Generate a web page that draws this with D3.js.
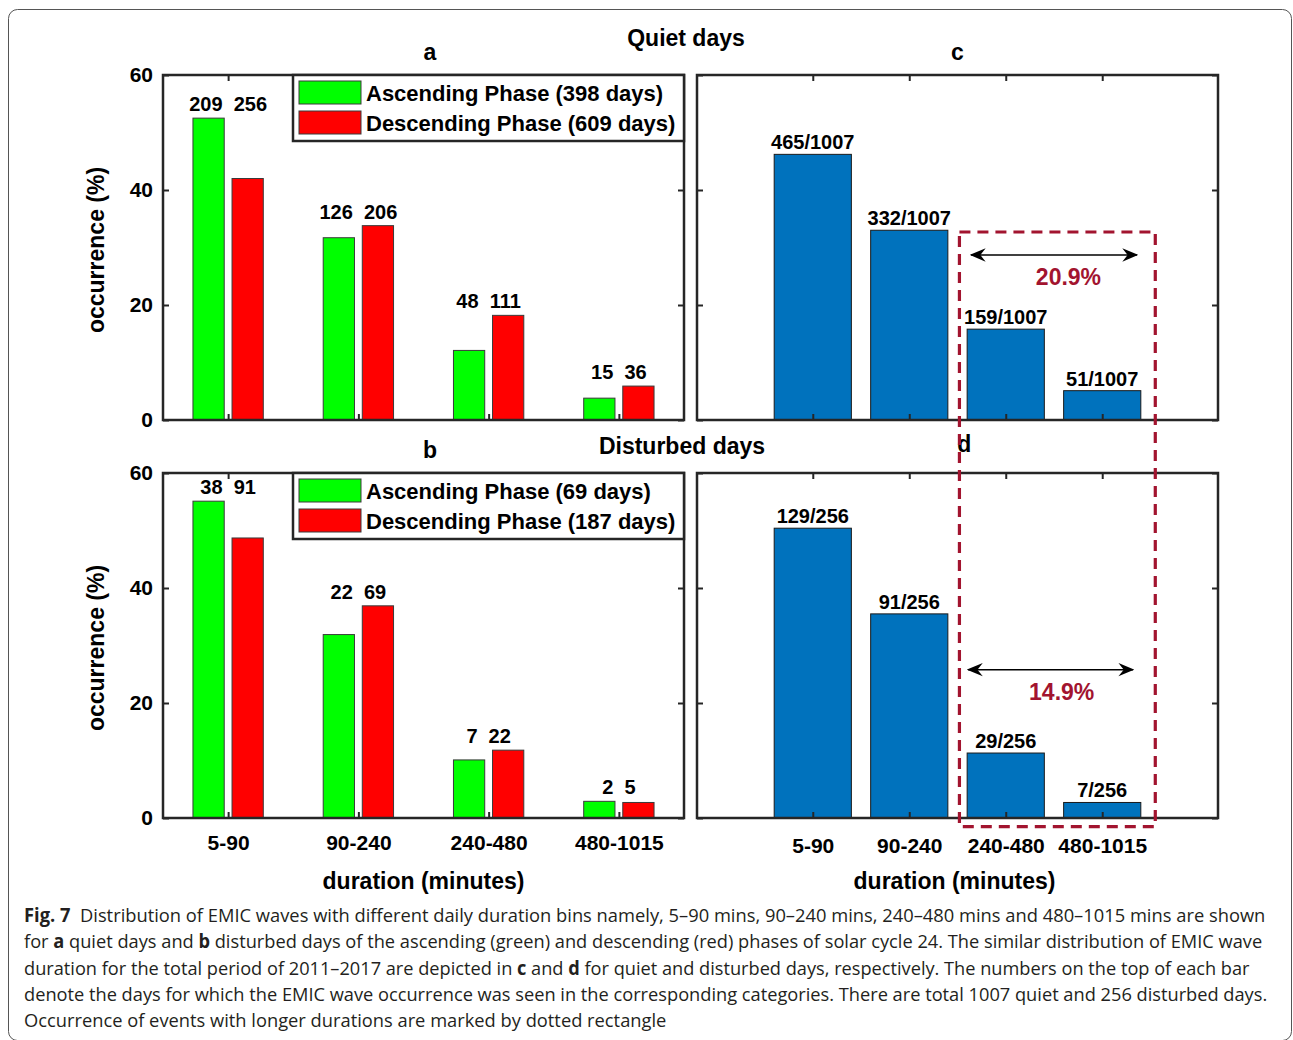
<!DOCTYPE html>
<html>
<head>
<meta charset="utf-8">
<script src="https://cdn.jsdelivr.net/npm/d3@7"></script>
<style>
  body { margin: 0; background: #fff; }
  svg text { font-family: "Liberation Sans", Arial, Helvetica, sans-serif; }
</style>
</head>
<body>
<svg id="fig" width="1293" height="1040"></svg>
<script>
// duration bins
var bins = ["5-90", "90-240", "240-480", "480-1015"];
var yTicks = [0, 20, 40, 60];

// quiet days, ascending / descending phase (%)
var quietAsc = [52.5, 31.7, 12.1, 3.8];
var quietDesc = [42.0, 33.8, 18.2, 5.9];
var quietAscDays = [209, 126, 48, 15];
var quietDescDays = [256, 206, 111, 36];

// disturbed days, ascending / descending phase (%)
var distAsc = [55.1, 31.9, 10.1, 2.9];
var distDesc = [48.7, 36.9, 11.8, 2.7];
var distAscDays = [38, 22, 7, 2];
var distDescDays = [91, 69, 22, 5];

// whole period 2011-2017 (%)
var quietTotal = [46.2, 33.0, 15.8, 5.1];
var quietTotalLabels = ["465/1007", "332/1007", "159/1007", "51/1007"];
var distTotal = [50.4, 35.5, 11.3, 2.7];
var distTotalLabels = ["129/256", "91/256", "29/256", "7/256"];

// share of long events
var longShare = ["20.9%", "14.9%"];

var svg = d3.select("#fig");
var ink = "#262626";
var crimson = "#A2142F";

//outer frame of the figure
svg.append("rect")
  .attr("x", 8.5).attr("y", 9.5)
  .attr("width", 1283).attr("height", 1031)
  .attr("rx", 9)
  .style("fill", "none")
  .style("stroke", "#555")
  .style("stroke-width", 1);

//arrow head
svg.append("defs").append("marker")
  .attr("id", "head")
  .attr("viewBox", "0 0 12 10")
  .attr("refX", 11).attr("refY", 5)
  .attr("markerUnits", "userSpaceOnUse")
  .attr("markerWidth", 16).attr("markerHeight", 14)
  .attr("orient", "auto-start-reverse")
  .append("path")
  .attr("d", "M0,0 L12,5 L0,10 L4,5 Z")
  .style("fill", "#000");

function frame(g, x, y, showYLabels, xLabels, xPad) {
  var x0 = x.range()[0], x1 = x.range()[1];
  var y0 = y.range()[0], y1 = y.range()[1];
  var cats = d3.range(1, bins.length + 1);

  var left = g.append("g").attr("transform", "translate(" + x0 + ",0)")
    .call(d3.axisLeft(y).tickValues(yTicks).tickSize(-6).tickPadding(10)
      .tickFormat(showYLabels ? d3.format("d") : ""));
  var right = g.append("g").attr("transform", "translate(" + x1 + ",0)")
    .call(d3.axisRight(y).tickValues(yTicks).tickSize(-6).tickFormat(""));
  var top = g.append("g").attr("transform", "translate(0," + y1 + ")")
    .call(d3.axisTop(x).tickValues(cats).tickSize(-6).tickFormat(""));
  var bottom = g.append("g").attr("transform", "translate(0," + y0 + ")")
    .call(d3.axisBottom(x).tickValues(cats).tickSize(-6).tickPadding(xPad)
      .tickFormat(xLabels ? function(d) { return bins[d - 1]; } : ""));

  [left, right, top, bottom].forEach(function(a) {
    a.select(".domain").remove();
    a.selectAll(".tick line").style("stroke", ink).style("stroke-width", 2);
    a.selectAll("text")
      .style("font-family", "'Liberation Sans', Arial, sans-serif")
      .style("font-size", "21px")
      .style("font-weight", "bold")
      .style("fill", "#000");
  });

  g.append("rect")
    .attr("x", x0).attr("y", y1)
    .attr("width", x1 - x0).attr("height", y0 - y1)
    .style("fill", "none")
    .style("stroke", ink)
    .style("stroke-width", 2.5);
}

function phasePanel(top, asc, desc, ascDays, descDays, legendText, letter, showX) {
  var g = svg.append("g");
  var x = d3.scaleLinear().domain([0.5, 4.5]).range([163, 684]);
  var y = d3.scaleLinear().domain([0, 60]).range([top + 345, top]);
  var bw = x(0.24) - x(0);

  var rows = bins.map(function(b, i) {
    return {i: i + 1, asc: asc[i], desc: desc[i], na: ascDays[i], nd: descDays[i]};
  });

  g.selectAll(".asc").data(rows).enter().append("rect")
    .attr("x", d => x(d.i - 0.15) - bw / 2)
    .attr("y", d => y(d.asc))
    .attr("width", bw)
    .attr("height", d => y(0) - y(d.asc))
    .style("fill", "#00FF00")
    .style("stroke", "#3a3a3a")
    .style("stroke-width", 1);

  g.selectAll(".desc").data(rows).enter().append("rect")
    .attr("x", d => x(d.i + 0.15) - bw / 2)
    .attr("y", d => y(d.desc))
    .attr("width", bw)
    .attr("height", d => y(0) - y(d.desc))
    .style("fill", "#FF0000")
    .style("stroke", "#3a3a3a")
    .style("stroke-width", 1);

  g.selectAll(".num").data(rows).enter().append("text")
    .attr("x", d => x(d.i))
    .attr("y", d => y(Math.max(d.asc, d.desc)) - 7)
    .attr("text-anchor", "middle")
    .style("white-space", "pre")
    .style("font-size", "20px")
    .style("font-weight", "bold")
    .text(d => d.na + "  " + d.nd);

  frame(g, x, y, true, showX, 17);

  //legend
  var lg = g.append("g");
  lg.append("rect")
    .attr("x", 293).attr("y", top)
    .attr("width", 684 - 293).attr("height", 66)
    .style("fill", "#fff")
    .style("stroke", ink)
    .style("stroke-width", 2.5);
  [["#00FF00", legendText[0]], ["#FF0000", legendText[1]]].forEach(function(e, k) {
    lg.append("rect")
      .attr("x", 299).attr("y", top + 6 + k * 30)
      .attr("width", 62).attr("height", 23)
      .style("fill", e[0])
      .style("stroke", "#3a3a3a")
      .style("stroke-width", 1);
    lg.append("text")
      .attr("x", 366).attr("y", top + 18 + k * 30)
      .attr("dy", "0.36em")
      .style("font-size", "22px")
      .style("font-weight", "bold")
      .text(e[1]);
  });

  g.append("text")
    .attr("x", x(2.55)).attr("y", top - 15)
    .attr("text-anchor", "middle")
    .style("font-size", "23px").style("font-weight", "bold")
    .text(letter);

  g.append("text")
    .attr("transform", "translate(104," + (top + 175) + ") rotate(-90)")
    .attr("text-anchor", "middle")
    .style("font-size", "23px").style("font-weight", "bold")
    .text("occurrence (%)");
  return {x: x, y: y};
}

function totalPanel(top, vals, labels, letter, letterX, letterDy, showX) {
  var g = svg.append("g");
  var x = d3.scaleLinear().domain([-0.2, 5.2]).range([697, 1218]);
  var y = d3.scaleLinear().domain([0, 60]).range([top + 345, top]);
  var bw = x(0.8) - x(0);

  g.selectAll(".bar").data(vals).enter().append("rect")
    .attr("x", (d, i) => x(i + 1) - bw / 2)
    .attr("y", d => y(d))
    .attr("width", bw)
    .attr("height", d => y(0) - y(d))
    .style("fill", "#0072BD")
    .style("stroke", "#1a1a1a")
    .style("stroke-width", 1);

  g.selectAll(".lab").data(vals).enter().append("text")
    .attr("x", (d, i) => x(i + 1))
    .attr("y", d => y(d) - 5)
    .attr("text-anchor", "middle")
    .style("font-size", "20px")
    .style("font-weight", "bold")
    .text((d, i) => labels[i]);

  frame(g, x, y, false, showX, 20);

  g.append("text")
    .attr("x", x(letterX)).attr("y", top - letterDy)
    .attr("text-anchor", "middle")
    .style("font-size", "23px").style("font-weight", "bold")
    .text(letter);
  return {x: x, y: y};
}

var pa = phasePanel(75, quietAsc, quietDesc, quietAscDays, quietDescDays,
  ["Ascending Phase (398 days)", "Descending Phase (609 days)"], "a", false);
var pb = phasePanel(473, distAsc, distDesc, distAscDays, distDescDays,
  ["Ascending Phase (69 days)", "Descending Phase (187 days)"], "b", true);
var pc = totalPanel(75, quietTotal, quietTotalLabels, "c", 2.5, 15, false);
var pd = totalPanel(473, distTotal, distTotalLabels, "d", 2.57, 21, true);

//section titles
svg.append("text").attr("x", 686).attr("y", 46)
  .attr("text-anchor", "middle")
  .style("font-size", "23px").style("font-weight", "bold")
  .text("Quiet days");
svg.append("text").attr("x", 682).attr("y", 454)
  .attr("text-anchor", "middle")
  .style("font-size", "23px").style("font-weight", "bold")
  .text("Disturbed days");

//x titles
[pb.x(2.5), pd.x(2.5) - 3].forEach(function(px) {
  svg.append("text").attr("x", px).attr("y", 889)
    .attr("text-anchor", "middle")
    .style("font-size", "23px").style("font-weight", "bold")
    .text("duration (minutes)");
});

//dashed rectangle around long events (c top to below d)
svg.append("rect")
  .attr("x", pc.x(2.52)).attr("y", pc.y(32.7))
  .attr("width", pc.x(4.55) - pc.x(2.52))
  .attr("height", pd.y(-1.5) - pc.y(32.7))
  .style("fill", "none")
  .style("stroke", crimson)
  .style("stroke-width", 3.2)
  .style("stroke-dasharray", "11,7");

//arrows and shares
[[pc, 2.64, 4.36, 28.7, 3.65, 23.5, longShare[0]],
 [pd, 2.61, 4.32, 25.8, 3.58, 20.6, longShare[1]]].forEach(function(a) {
  var p = a[0];
  svg.append("line")
    .attr("x1", p.x(a[1])).attr("x2", p.x(a[2]))
    .attr("y1", p.y(a[3])).attr("y2", p.y(a[3]))
    .style("stroke", "#000")
    .style("stroke-width", 1.5)
    .attr("marker-start", "url(#head)")
    .attr("marker-end", "url(#head)");
  svg.append("text")
    .attr("x", p.x(a[4])).attr("y", p.y(a[5]))
    .attr("text-anchor", "middle")
    .style("font-size", "23px").style("font-weight", "bold")
    .style("fill", crimson)
    .text(a[6]);
});

//caption
var caption = [
  [["b", "Fig. 7"], ["", "  Distribution of EMIC waves with different daily duration bins namely, 5–90 mins, 90–240 mins, 240–480 mins and 480–1015 mins are shown"]],
  [["", "for "], ["b", "a"], ["", " quiet days and "], ["b", "b"], ["", " disturbed days of the ascending (green) and descending (red) phases of solar cycle 24. The similar distribution of EMIC wave"]],
  [["", "duration for the total period of 2011–2017 are depicted in "], ["b", "c"], ["", " and "], ["b", "d"], ["", " for quiet and disturbed days, respectively. The numbers on the top of each bar"]],
  [["", "denote the days for which the EMIC wave occurrence was seen in the corresponding categories. There are total 1007 quiet and 256 disturbed days."]],
  [["", "Occurrence of events with longer durations are marked by dotted rectangle"]]
];
var captionWidths = [1242, 1239, 1226, 1244, 643];

caption.forEach(function(line, k) {
  var t = svg.append("text")
    .style("font-family", "'Open Sans', 'Noto Sans', sans-serif")
    .style("font-size", "19px")
    .style("fill", "#231f20")
    .style("white-space", "pre");
  line.forEach(function(s) {
    t.append("tspan")
      .style("font-weight", s[0] === "b" ? "bold" : "normal")
      .text(s[1]);
  });
  var w = t.node().getComputedTextLength();
  t.attr("transform", "translate(24," + (922 + k * 26.3) + ") scale(" + (captionWidths[k] / w) + ",1)");
});
</script>
</body>
</html>
